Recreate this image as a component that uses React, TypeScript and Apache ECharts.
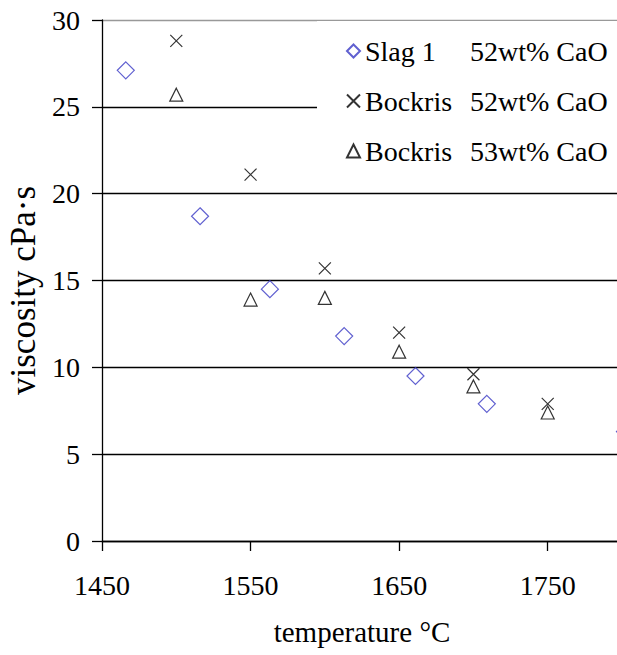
import React, { useEffect, useRef } from "react";
import * as echarts from "echarts";

// Series labels shown in the legend: source and slag composition
const sources = ["Slag 1", "Bockris", "Bockris"];
const compositions = ["52wt% CaO", "52wt% CaO", "53wt% CaO"];

// Slag 1, 52wt% CaO
const slagTemps = [1466, 1516, 1563, 1613, 1661, 1709, 1802];
const slagVisc = [27.1, 18.7, 14.5, 11.8, 9.5, 7.9, 6.3];

// Bockris, 52wt% CaO
const bockris52Temps = [1500, 1550, 1600, 1650, 1700, 1750];
const bockris52Visc = [28.8, 21.1, 15.7, 12.0, 9.6, 7.9];

// Bockris, 53wt% CaO
const bockris53Temps = [1500, 1550, 1600, 1650, 1700, 1750];
const bockris53Visc = [25.7, 13.9, 14.0, 10.9, 8.9, 7.4];

// Temperature tick labels that fall inside the visible frame
const tempTicks = [1450, 1550, 1650, 1750];

const FONT = "'Liberation Serif', 'Times New Roman', serif";
const CROSS = "path://M0,0L10,10M10,0L0,10";

const seriesName = (i: number) => `${sources[i]} ${compositions[i]}`;
const pairs = (xs: number[], ys: number[]) => xs.map((x, i) => [x, ys[i]]);

export default function App() {
  const ref = useRef<HTMLDivElement>(null);

  useEffect(() => {
    if (!ref.current) return;
    const chart = echarts.init(ref.current, undefined, { renderer: "svg" });

    chart.setOption({
      animation: false,
      backgroundColor: "#fff",
      grid: {
        left: 102,
        top: 20,
        right: 18,
        bottom: 114,
        containLabel: false,
        outerBoundsMode: "none",
      },
      xAxis: {
        type: "value",
        min: 1450,
        max: 1800,
        interval: 100,
        name: "temperature °C",
        nameLocation: "middle",
        nameGap: 76,
        nameTextStyle: { fontFamily: FONT, fontSize: 29, color: "#000" },
        axisLine: { show: true, lineStyle: { color: "#000", width: 1.3 } },
        axisTick: { show: true, length: 10, lineStyle: { color: "#000", width: 1.3 } },
        axisLabel: {
          fontFamily: FONT,
          fontSize: 28,
          color: "#000",
          margin: 30,
          showMaxLabel: false,
          formatter: (v: number) => (tempTicks.includes(v) ? String(v) : ""),
        },
        splitLine: { show: false },
      },
      yAxis: {
        type: "value",
        min: 0,
        max: 30,
        interval: 5,
        name: "viscosity cPa·s",
        nameLocation: "middle",
        nameGap: 56,
        nameTextStyle: { fontFamily: FONT, fontSize: 35, color: "#000", padding: [0, 20, 0, 0] },
        axisLine: { show: true, lineStyle: { color: "#000", width: 1.3 } },
        axisTick: { show: true, length: 10, lineStyle: { color: "#000", width: 1.3 } },
        axisLabel: { fontFamily: FONT, fontSize: 28, color: "#000", margin: 22 },
        splitLine: {
          show: true,
          lineStyle: {
            color: ["#000", "#000", "#000", "#000", "#000", "#000", "#999"],
            width: 1.3,
          },
        },
      },
      legend: {
        orient: "vertical",
        left: 317,
        top: 21,
        padding: [16, 20, 12, 29],
        itemWidth: 13,
        itemHeight: 13,
        itemGap: 22,
        backgroundColor: "#fff",
        data: [0, 1, 2].map(seriesName),
        formatter: (name: string) => {
          const i = [0, 1, 2].findIndex((k) => seriesName(k) === name);
          return `{a|${sources[i]}}{b|${compositions[i]}}`;
        },
        textStyle: {
          fontFamily: FONT,
          fontSize: 28,
          color: "#000",
          rich: {
            a: { fontFamily: FONT, fontSize: 28, color: "#000", width: 105, lineHeight: 30 },
            b: { fontFamily: FONT, fontSize: 28, color: "#000", lineHeight: 30 },
          },
        },
      },
      series: [
        {
          name: seriesName(0),
          type: "scatter",
          clip: false,
          symbol: "diamond",
          symbolSize: 17,
          itemStyle: { color: "rgba(255,255,255,0)", borderColor: "#3838C4", borderWidth: 1.2 },
          data: pairs(slagTemps, slagVisc),
        },
        {
          name: seriesName(1),
          type: "scatter",
          clip: false,
          symbol: CROSS,
          symbolSize: 12,
          itemStyle: { color: "rgba(255,255,255,0)", borderColor: "#000", borderWidth: 1.2 },
          data: pairs(bockris52Temps, bockris52Visc),
        },
        {
          name: seriesName(2),
          type: "scatter",
          clip: false,
          symbol: "triangle",
          symbolSize: 13,
          itemStyle: { color: "rgba(255,255,255,0)", borderColor: "#000", borderWidth: 1.2 },
          data: pairs(bockris53Temps, bockris53Visc),
        },
      ],
    });

    return () => chart.dispose();
  }, []);

  return (
    <div
      style={{
        position: "absolute",
        left: 0,
        top: 0,
        width: 617,
        height: 655,
        overflow: "hidden",
        background: "#fff",
      }}
    >
      <div ref={ref} style={{ width: 640, height: 655 }} />
    </div>
  );
}
